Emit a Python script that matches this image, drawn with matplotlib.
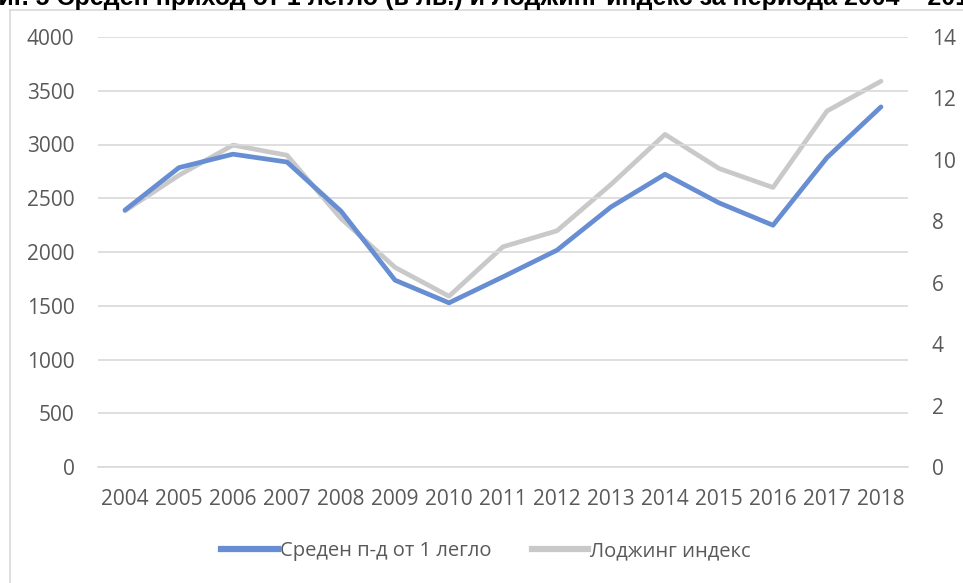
import matplotlib
matplotlib.use("Agg")
import matplotlib.pyplot as plt
from matplotlib.lines import Line2D

years = ["2004", "2005", "2006", "2007", "2008", "2009", "2010", "2011",
         "2012", "2013", "2014", "2015", "2016", "2017", "2018"]
income_per_bed = [2390, 2785, 2910, 2837, 2380, 1738, 1527, 1769,
                  2017, 2419, 2723, 2457, 2249, 2878, 3350]
lodging_index = [8.34, 9.50, 10.48, 10.15, 8.09, 6.50, 5.56, 7.17,
                 7.69, 9.20, 10.83, 9.72, 9.10, 11.59, 12.56]
label_income = "Среден п-д от 1 легло"
label_index = "Лоджинг индекс"
title = "Фиг. 5 Среден приход от 1 легло (в лв.) и Лоджинг индекс за периода 2004 – 2018"

W, H = 963, 583
fig = plt.figure(figsize=(W / 100, H / 100), dpi=100)
fig.patch.set_facecolor("white")

txt_color = "#595959"
grid_color = "#D9D9D9"
blue = "#678DD2"
gray = "#C9C9C9"
fnt = "Open Sans"
fs = 15

# chart border (cropped)
fig.add_artist(Line2D([9.5 / W, 9.5 / W], [0, 1 - 9.5 / H], transform=fig.transFigure,
                      color=grid_color, lw=1.2))
fig.add_artist(Line2D([9.5 / W, 1.0], [1 - 9.5 / H, 1 - 9.5 / H], transform=fig.transFigure,
                      color=grid_color, lw=1.2))

# title (cropped at top) - size it so the words land where they do in the reference
renderer = fig.canvas.get_renderer()
title_family = ["Liberation Sans", "DejaVu Sans"]


def text_width(s, size):
    t = fig.text(0, 0, s, family=title_family, fontweight="bold", fontsize=size)
    w = t.get_window_extent(renderer).width
    t.remove()
    return w


i_word = title.index("Среден")
i_year = title.index("2004")
base = 14.4
span = text_width(title[:i_year], base) - text_width(title[:i_word], base)
tsize = base * 783.0 / span
prefix = text_width(title[:i_word], tsize)
x0 = 57 - prefix
fig.text(x0 / W, 1 - 5 / H, title, family=title_family,
         fontweight="bold", fontsize=tsize, color="black", ha="left", va="baseline")

left, right, top, bottom = 98, 908, 37, 467
ax = fig.add_axes([left / W, 1 - bottom / H, (right - left) / W, (bottom - top) / H])
ax2 = ax.twinx()

x = list(range(len(years)))
ax.plot(x, income_per_bed, color=blue, lw=3.4, solid_capstyle="round",
        solid_joinstyle="round", label=label_income, zorder=3)
ax2.plot(x, lodging_index, color=gray, lw=3.4, solid_capstyle="round",
         solid_joinstyle="round", label=label_index, zorder=2)
ax.set_zorder(ax2.get_zorder() + 1)
ax.patch.set_visible(False)

ax.set_xlim(-0.5, len(years) - 0.5)
ax.set_ylim(0, 4000)
ax.set_yticks(range(0, 4001, 500))
ax2.set_ylim(0, 14)
ax2.set_yticks(range(0, 15, 2))
ax.set_xticks(x)
ax.set_xticklabels(years)

ax.grid(axis="y", color=grid_color, lw=1.2)
ax.set_axisbelow(True)
for a in (ax, ax2):
    for s in a.spines.values():
        s.set_visible(False)
ax.spines["bottom"].set_visible(True)
ax.spines["bottom"].set_color(grid_color)
ax.spines["bottom"].set_linewidth(1.2)

ax.tick_params(axis="y", length=0, pad=17, labelcolor=txt_color, labelsize=fs)
ax.tick_params(axis="x", length=0, pad=16, labelcolor=txt_color, labelsize=fs)
ax2.tick_params(axis="y", length=0, pad=17, labelcolor=txt_color, labelsize=fs)
for lab in ax.get_xticklabels() + ax.get_yticklabels() + ax2.get_yticklabels():
    lab.set_family(fnt)

handles = [Line2D([], [], color=blue, lw=4.5), Line2D([], [], color=gray, lw=4.5)]
leg = fig.legend(handles, [label_income, label_index], loc="center",
                 bbox_to_anchor=(486 / W, 1 - 551 / H), ncol=2, frameon=False,
                 handlelength=2.8, handletextpad=0.1, columnspacing=2.0,
                 prop={"family": fnt, "size": 14.5})
for t in leg.get_texts():
    t.set_color(txt_color)

fig.savefig("out.png", dpi=100, facecolor="white")
